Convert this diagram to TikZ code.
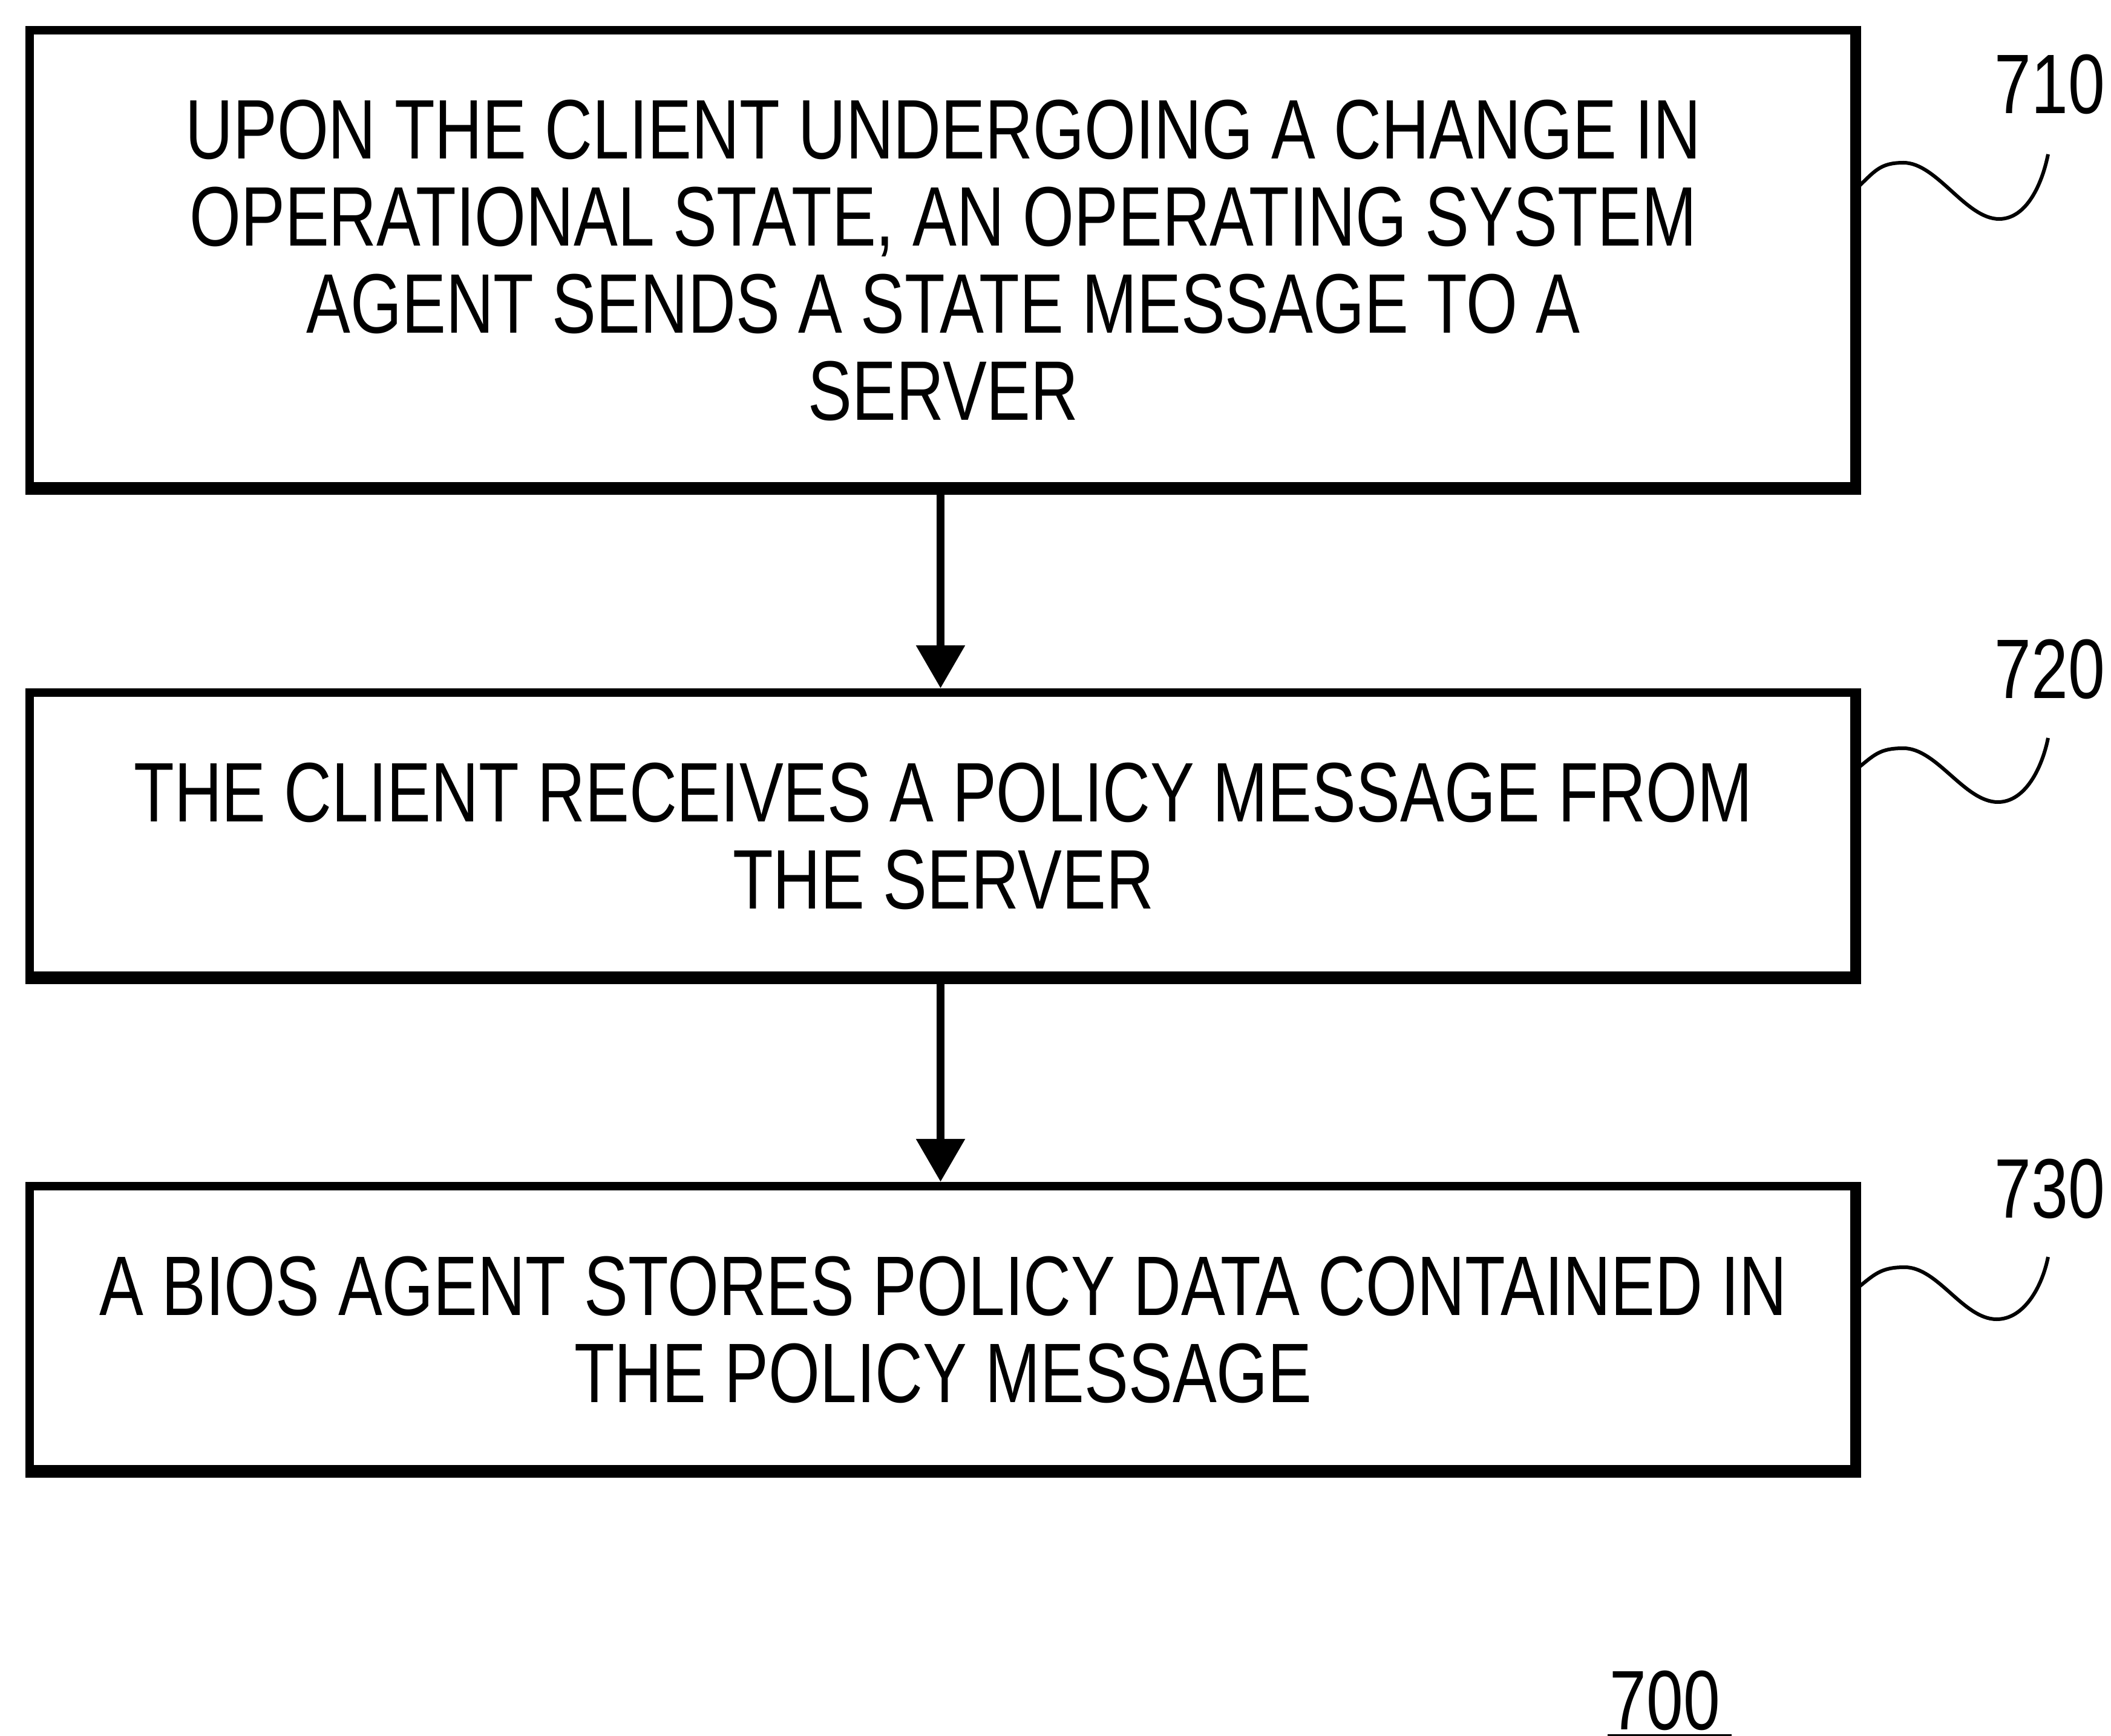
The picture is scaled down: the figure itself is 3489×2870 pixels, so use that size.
\documentclass[tikz,border=0pt]{standalone}
\usepackage{fontspec}
\setmainfont{Liberation Sans}[FakeStretch=0.782]
\usetikzlibrary{arrows.meta}
\begin{document}
\begin{tikzpicture}[x=0.01cm,y=-0.01cm,
  stepbox/.style={draw, rectangle, line width=0.14cm, minimum width=30.18cm,
    outer sep=0pt, inner sep=0pt, align=center,
    font=\fontsize{39.7pt}{41pt}\selectfont},
  reflabel/.style={font=\fontsize{39.7pt}{41pt}\selectfont, inner sep=0pt, anchor=base},
  flow/.style={line width=0.13cm, -{Triangle[length=0.71cm,width=0.78cm]}, shorten >=0.07cm},
  squig/.style={line width=0.06cm}]
\useasboundingbox (0,0) rectangle (3489,2870);
\fill[white] (0,0) rectangle (3489,2870);

\node[stepbox, minimum height=7.61cm] (b1) at (1559,430.5)
  {UPON THE CLIENT UNDERGOING A CHANGE IN\\OPERATIONAL STATE, AN OPERATING SYSTEM\\AGENT SENDS A STATE MESSAGE TO A\\SERVER};
\node[stepbox, minimum height=4.75cm] (b2) at (1559,1382.5)
  {THE CLIENT RECEIVES A POLICY MESSAGE FROM\\THE SERVER};
\node[stepbox, minimum height=4.75cm] (b3) at (1559,2198.5)
  {A BIOS AGENT STORES POLICY DATA CONTAINED IN\\THE POLICY MESSAGE};

\foreach \b in {b1,b2,b3} {
  \fill ([shift={(-11,7)}]\b.north east) rectangle ([shift={(-7,-7)}]\b.south east);
  \fill ([shift={(7,-14)}]\b.south west) rectangle ([shift={(-7,-7)}]\b.south east);
}

\draw[flow] ([xshift=-0.045cm]b1.south) -- ([xshift=-0.045cm]b2.north);
\draw[flow] ([xshift=-0.045cm]b2.south) -- ([xshift=-0.045cm]b3.north);

\node[reflabel] (l1) at (3388,188) {710};
\node[reflabel] (l2) at (3388,1154) {720};
\node[reflabel] (l3) at (3388,2013) {730};

\coordinate (w1s) at (3068,312);  \coordinate (w1e) at (3385,255);
\coordinate (w2s) at (3068,1272); \coordinate (w2e) at (3385,1220);
\coordinate (w3s) at (3068,2131); \coordinate (w3e) at (3385,2078);

\draw[squig] (w1s) .. controls +(30,-28) and +(-40,0) .. (3146,269)
  .. controls +(55,0) and +(-55,0) .. (3304,362)
  .. controls +(45,0) and +(-10,50) .. (w1e);
\draw[squig] (w2s) .. controls +(30,-24) and +(-40,0) .. (3146,1237)
  .. controls +(55,0) and +(-55,0) .. (3302,1326)
  .. controls +(45,0) and +(-10,50) .. (w2e);
\draw[squig] (w3s) .. controls +(30,-24) and +(-40,0) .. (3148,2095)
  .. controls +(55,0) and +(-55,0) .. (3300,2181)
  .. controls +(45,0) and +(-10,50) .. (w3e);

\node[reflabel] (fig) at (2752,2859) {700};
\draw[line width=0.05cm] ([shift={(-95,10)}]fig.base) -- ([shift={(110,10)}]fig.base);
\end{tikzpicture}
\end{document}
